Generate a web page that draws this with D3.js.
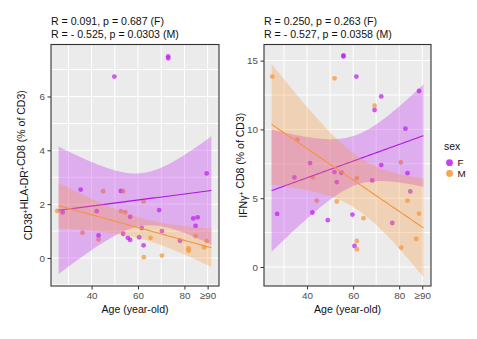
<!DOCTYPE html>
<html lang="en">
<head>
<meta charset="UTF-8">
<script src="https://d3js.org/d3.v7.min.js"></script>
<style>
  body { margin: 0; background: #fff; }
  svg { font-family: "Liberation Sans", Arial, sans-serif; }
</style>
</head>
<body>
<div id="chart"></div>
<script>
// ---- data ----
const cd38AgeF = [27.5, 35.3, 42.2, 43.0, 49.8, 52.6, 53.6, 55.6, 56.6, 56.6, 60.5, 61.6, 62.4, 69.1, 70.3, 73.0, 73.0, 78.1, 83.8, 84.8, 85.7, 89.6];
const cd38ValF = [1.70, 2.54, 1.74, 0.84, 6.74, 2.49, 0.90, 0.75, 1.53, 0.67, 0.77, 1.11, 0.47, 1.78, 1.00, 7.49, 7.42, 0.64, 1.47, 1.19, 1.51, 3.14];
const cd38AgeM = [25.2, 36.1, 43.0, 45.0, 52.6, 53.6, 54.5, 62.4, 62.5, 65.4, 70.3, 81.8, 81.8, 84.8, 88.5, 89.6];
const cd38ValM = [1.75, 0.94, 0.69, 2.48, 1.74, 2.48, 1.70, 2.10, 0.03, 0.75, 0.09, 0.36, 0.27, 0.81, 0.40, 0.63];

const ifngAgeF = [27.0, 34.5, 41.3, 42.3, 49.0, 51.9, 52.9, 54.9, 55.8, 55.8, 59.7, 60.6, 61.4, 68.3, 69.3, 72.2, 72.2, 77.0, 82.7, 83.6, 84.8, 88.6];
const ifngValF = [3.86, 6.51, 7.55, 3.96, 3.40, 6.90, 6.17, 6.85, 15.37, 15.30, 3.81, 1.53, 13.84, 6.29, 11.41, 12.40, 7.41, 3.20, 10.05, 6.82, 5.49, 12.79];
const ifngAgeM = [24.9, 35.8, 42.5, 44.2, 51.9, 52.9, 61.6, 61.6, 61.6, 64.5, 69.3, 80.7, 80.9, 83.6, 87.4, 88.6];
const ifngValM = [13.84, 9.25, 6.51, 4.83, 13.71, 4.76, 6.46, 1.89, 1.29, 3.55, 11.72, 7.60, 1.41, 4.83, 2.04, 3.88];

const xTicks = [40, 60, 80, 90];
const xTickLabels = ["40", "60", "80", "\u226590"];
const xGrid = [30, 40, 50, 60, 70, 80, 90];
const cd38YTicks = [0, 2, 4, 6];
const cd38YGrid = [-1, 0, 1, 2, 3, 4, 5, 6, 7];
const ifngYTicks = [0, 5, 10, 15];
const ifngYGrid = [0, 2.5, 5, 7.5, 10, 12.5, 15];
const cd38Stats = ["R = 0.091, p = 0.687 (F)", "R = - 0.525, p = 0.0303 (M)"];
const ifngStats = ["R = 0.250, p = 0.263 (F)", "R = - 0.527, p = 0.0358 (M)"];
const sexes = ["F", "M"];

const colors = { F: "#bf1df2", M: "#f7953a" };
const lineColors = { F: "#b014e0", M: "#f3953c" };

const svg = d3.select("#chart").append("svg")
  .attr("width", 477).attr("height", 339);

// approximate t quantile (0.975) for df
function tq(df) {
  const z = 1.959964;
  return z + (z ** 3 + z) / (4 * df) + (5 * z ** 5 + 16 * z ** 3 + 3 * z) / (96 * df * df)
    + (3 * z ** 7 + 19 * z ** 5 + 17 * z ** 3 - 15 * z) / (384 * df ** 3);
}

// linear fit with 95% confidence band
function lmFit(xs, ys, lo, hi) {
  const n = xs.length;
  const mx = d3.mean(xs), my = d3.mean(ys);
  let sxx = 0, sxy = 0;
  xs.forEach((x, i) => { sxx += (x - mx) ** 2; sxy += (x - mx) * (ys[i] - my); });
  const b = sxy / sxx, a = my - b * mx;
  let sse = 0;
  xs.forEach((x, i) => { sse += (ys[i] - a - b * x) ** 2; });
  const s = Math.sqrt(sse / (n - 2)), t = tq(n - 2);
  return d3.range(81).map(k => {
    const x = lo + (hi - lo) * k / 80;
    const yh = a + b * x;
    const se = s * Math.sqrt(1 / n + (x - mx) ** 2 / sxx);
    return { x, y: yh, lo: yh - t * se, hi: yh + t * se };
  });
}

function drawPanel(p) {
  const g = svg.append("g");
  const x = d3.scaleLinear().domain(p.xDomain).range([p.left, p.right]);
  const y = d3.scaleLinear().domain(p.yDomain).range([p.bottom, p.top]);

  // background + grid
  g.append("rect").attr("x", p.left).attr("y", p.top)
    .attr("width", p.right - p.left).attr("height", p.bottom - p.top)
    .attr("fill", "#ebebeb");
  g.selectAll(".gx").data(xGrid).join("line")
    .attr("x1", d => x(d)).attr("x2", d => x(d))
    .attr("y1", p.top).attr("y2", p.bottom)
    .attr("stroke", "#fff").attr("stroke-width", 1);
  g.selectAll(".gy").data(p.yGrid.filter(v => y(v) > p.top && y(v) < p.bottom)).join("line")
    .attr("y1", d => y(d)).attr("y2", d => y(d))
    .attr("x1", p.left).attr("x2", p.right)
    .attr("stroke", "#fff").attr("stroke-width", 1);

  // points
  sexes.forEach(s => {
    const ages = p.ages[s], vals = p.vals[s];
    g.append("g").selectAll("circle").data(ages).join("circle")
      .attr("cx", d => x(d)).attr("cy", (d, i) => y(vals[i]))
      .attr("r", 2.4)
      .attr("fill", colors[s]).attr("fill-opacity", 0.72);
  });

  // smooth (fit over the data range of the panel)
  const w = (p.xDomain[1] - p.xDomain[0]) / 1.1;
  const lo = p.xDomain[0] + 0.05 * w, hi = p.xDomain[1] - 0.05 * w;
  const clipId = "clip" + p.left;
  svg.append("clipPath").attr("id", clipId).append("rect")
    .attr("x", p.left).attr("y", p.top)
    .attr("width", p.right - p.left).attr("height", p.bottom - p.top);
  const sg = g.append("g").attr("clip-path", `url(#${clipId})`);
  sexes.forEach(s => {
    const fit = lmFit(p.ages[s], p.vals[s], lo, hi);
    sg.append("path").datum(fit)
      .attr("d", d3.area().x(d => x(d.x)).y0(d => y(d.lo)).y1(d => y(d.hi)))
      .attr("fill", colors[s]).attr("fill-opacity", 0.3);
    sg.append("path").datum(fit)
      .attr("d", d3.line().x(d => x(d.x)).y(d => y(d.y)))
      .attr("fill", "none").attr("stroke", lineColors[s]).attr("stroke-width", 1.1);
  });

  // border
  g.append("rect").attr("x", p.left).attr("y", p.top)
    .attr("width", p.right - p.left).attr("height", p.bottom - p.top)
    .attr("fill", "none").attr("stroke", "#333").attr("stroke-width", 1.1);

  // axes
  const xAxis = g.append("g").attr("transform", `translate(0,${p.bottom})`)
    .call(d3.axisBottom(x).tickValues(xTicks).tickFormat((d, i) => xTickLabels[i]).tickSize(3.5).tickPadding(2.5));
  const yAxis = g.append("g").attr("transform", `translate(${p.left},0)`)
    .call(d3.axisLeft(y).tickValues(p.yTicks).tickSize(3.5).tickPadding(2.5));
  [xAxis, yAxis].forEach(a => {
    a.select(".domain").remove();
    a.selectAll(".tick line").attr("stroke", "#333");
    a.selectAll(".tick text").attr("fill", "#4d4d4d").style("font-size", "9.8px");
  });

  // stats title
  g.selectAll(".st").data(p.stats).join("text")
    .attr("x", p.left).attr("y", (d, i) => 25 + i * 12.6)
    .style("font-size", "10.6px").attr("fill", "#111")
    .text(d => d);

  // x title
  g.append("text").attr("x", (p.left + p.right) / 2).attr("y", 312.5)
    .attr("text-anchor", "middle").style("font-size", "10.6px").attr("fill", "#111")
    .text("Age (year-old)");

  // y title
  const yt = g.append("text")
    .attr("transform", `translate(${p.yTitleX},${(p.top + p.bottom) / 2}) rotate(-90)`)
    .attr("text-anchor", "middle").style("font-size", "10.5px").attr("fill", "#111");
  p.yTitle.forEach(part => {
    if (part.sup) {
      yt.append("tspan").attr("dy", -3.2).style("font-size", "7px").text(part.t);
      yt.append("tspan").attr("dy", 3.2).text("");
    } else {
      yt.append("tspan").text(part.t);
    }
  });
}

drawPanel({
  left: 51, right: 219, top: 44.5, bottom: 286,
  xDomain: [22.5, 94.9], yDomain: [-1.04, 7.93],
  yTicks: cd38YTicks, yGrid: cd38YGrid, stats: cd38Stats,
  ages: { F: cd38AgeF, M: cd38AgeM }, vals: { F: cd38ValF, M: cd38ValM },
  yTitleX: 31.5,
  yTitle: [{ t: "CD38" }, { t: "+", sup: true }, { t: "HLA-DR" }, { t: "+", sup: true }, { t: "CD8 (% of CD3)" }]
});

drawPanel({
  left: 264, right: 431, top: 44.5, bottom: 286,
  xDomain: [21.3, 93.8], yDomain: [-1.38, 16.17],
  yTicks: ifngYTicks, yGrid: ifngYGrid, stats: ifngStats,
  ages: { F: ifngAgeF, M: ifngAgeM }, vals: { F: ifngValF, M: ifngValM },
  yTitleX: 247.3,
  yTitle: [{ t: "IFN\u03b3" }, { t: "+", sup: true }, { t: " CD8 (% of CD3)" }]
});

// legend
const lg = svg.append("g");
lg.append("text").attr("x", 444).attr("y", 150).style("font-size", "10.5px").attr("fill", "#111").text("sex");
lg.selectAll("circle").data(sexes).join("circle")
  .attr("cx", 449.5).attr("cy", (d, i) => 162.7 + i * 10.8)
  .attr("r", 3.4).attr("fill", d => colors[d]).attr("fill-opacity", 0.85);
lg.selectAll(".lt").data(sexes).join("text")
  .attr("x", 457.5).attr("y", (d, i) => 166.4 + i * 10.8)
  .style("font-size", "9.8px").attr("fill", "#111").text(d => d);
</script>
</body>
</html>
